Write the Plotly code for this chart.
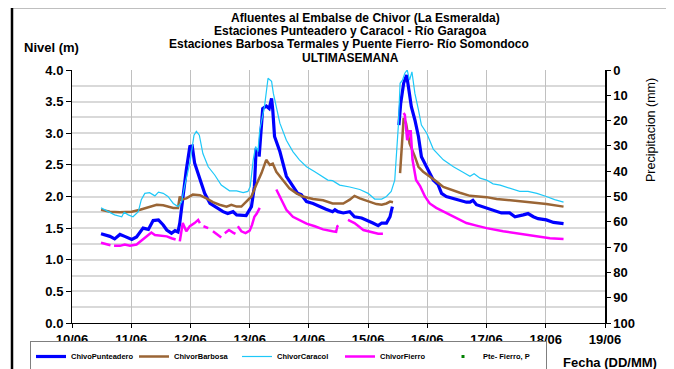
import pandas as pd
import plotly.graph_objects as go

BASE = pd.Timestamp("2011-06-10")

# ---- data (days since 10/06, level in m); None = gap ----
punt_days = [0.49,0.64,0.72,0.81,0.89,1.01,1.09,1.2,1.29,1.37,1.46,1.54,1.6,1.68,1.74,1.79,1.82,1.88,1.93,1.99,2.03,2.07,2.16,2.24,2.33,2.44,2.55,2.63,2.72,2.78,2.94,3.03,3.08,3.11,None,3.16,3.18,3.22,3.28,3.33,3.37,3.39,3.42,3.51,3.62,3.73,3.81,3.87,3.96,4.07,4.18,4.29,4.40,4.44,4.49,4.58,4.69,4.77,4.89,5.0,5.08,5.17,5.23,5.31,5.37,5.41,None,5.52,5.55,5.60,5.65,5.68,5.73,5.79,5.85,5.90,5.99,6.10,6.18,6.24,6.32,6.44,6.55,6.66,6.72,6.77,6.83,7.0,7.17,7.25,7.39,7.48,7.62,7.70,7.79,7.87,8.01,8.13,8.30]
punt_vals = [1.41,1.37,1.33,1.40,1.37,1.32,1.36,1.5,1.48,1.62,1.63,1.55,1.47,1.42,1.46,1.44,1.58,2.05,2.42,2.79,2.80,2.53,2.26,2.05,1.89,1.82,1.76,1.73,1.76,1.71,1.70,1.84,2.16,2.76,None,2.63,2.95,3.39,3.43,3.39,3.55,3.37,2.95,2.71,2.32,2.16,2.05,2.03,1.92,1.89,1.84,1.80,1.76,1.79,1.76,1.74,1.76,1.68,1.66,1.62,1.58,1.54,1.58,1.58,1.68,1.84,None,3.13,3.47,3.79,3.92,3.74,3.42,3.21,2.95,2.63,2.47,2.26,2.19,2.05,2.0,1.97,1.95,1.91,1.91,1.94,1.87,1.82,1.76,1.74,1.74,1.68,1.71,1.73,1.68,1.65,1.63,1.59,1.57]

barb_days = [0.49,0.64,0.81,1.01,1.15,1.29,1.43,1.54,1.62,1.71,1.79,1.82,1.85,1.93,2.04,2.16,2.27,2.38,2.49,2.61,2.69,2.78,2.86,2.94,3.03,3.11,3.20,3.28,3.34,3.39,3.45,3.56,3.67,3.79,3.90,4.07,4.24,4.40,4.58,4.69,4.77,4.86,5.0,5.14,5.23,5.31,5.37,5.42,None,5.54,5.56,5.60,5.64,5.70,5.79,5.85,5.93,6.04,6.15,6.27,6.38,6.55,6.72,7.0,7.17,7.45,7.73,8.01,8.30]
barb_vals = [1.79,1.76,1.75,1.76,1.79,1.83,1.87,1.86,1.84,1.82,1.82,2.0,1.95,1.97,2.03,2.02,1.97,1.91,1.87,1.84,1.87,1.84,1.84,1.91,2.0,2.18,2.37,2.58,2.5,2.52,2.39,2.26,2.13,2.05,2.0,1.96,1.94,1.89,1.89,1.95,2.01,1.97,1.92,1.88,1.87,1.89,1.92,1.91,None,2.37,2.68,3.24,3.16,2.84,2.63,2.47,2.39,2.32,2.24,2.15,2.11,2.06,2.01,1.99,1.96,1.94,1.91,1.88,1.84]

cara_days = [0.49,0.58,0.72,0.84,0.88,0.95,1.03,1.12,1.17,1.23,1.31,1.40,1.46,1.54,1.62,1.71,1.79,1.85,1.90,1.99,2.06,2.10,2.15,2.21,2.30,2.41,2.52,2.66,2.78,2.89,2.97,3.01,3.06,3.10,3.14,3.17,3.20,3.25,3.31,3.37,3.40,3.45,3.51,3.62,3.73,3.84,3.96,4.10,4.21,4.32,4.40,4.52,4.69,4.86,5.0,5.11,5.23,5.31,5.39,5.45,5.51,5.54,5.58,5.62,5.66,5.70,5.74,5.79,5.85,5.90,5.99,6.10,6.27,6.44,6.61,6.72,6.79,6.89,7.0,7.11,7.23,7.39,7.56,7.70,7.85,8.01,8.15,8.30]
cara_vals = [1.82,1.78,1.71,1.68,1.75,1.71,1.68,1.76,1.95,2.05,2.06,2.01,2.07,2.05,2.0,1.89,1.84,1.91,2.16,2.53,2.97,3.03,2.97,2.68,2.47,2.34,2.18,2.09,2.09,2.06,2.08,2.16,2.58,2.79,2.71,3.05,3.21,3.42,3.87,3.82,3.63,3.42,3.16,2.89,2.71,2.58,2.47,2.39,2.32,2.26,2.25,2.18,2.15,2.11,2.05,1.96,1.96,2.0,2.08,2.26,3.11,3.79,3.84,3.95,4.0,3.84,3.97,3.63,3.37,3.13,3.0,2.75,2.58,2.47,2.38,2.32,2.36,2.29,2.26,2.2,2.18,2.13,2.08,2.08,2.05,2.0,1.95,1.91]

fier_days = [0.49,0.58,0.65,None,0.71,0.81,0.89,0.98,1.09,1.17,1.26,1.34,1.40,1.48,1.6,1.68,1.75,None,1.82,1.87,1.93,1.99,2.07,2.13,2.16,None,2.22,2.30,None,2.38,2.47,2.52,None,2.58,2.65,2.72,2.76,None,2.80,2.86,2.93,3.0,3.04,3.08,3.12,3.17,None,3.45,3.53,3.62,3.73,3.84,3.96,4.10,4.24,4.40,4.46,4.48,4.50,None,4.66,4.77,4.92,5.06,5.17,5.25,None,5.60,5.62,5.66,5.69,5.72,5.75,5.81,5.88,5.96,6.04,6.15,6.32,6.49,6.66,6.83,7.0,7.28,7.56,7.85,8.07,8.30]
fier_vals = [1.27,1.25,1.23,None,1.22,1.22,1.24,1.22,1.24,1.30,1.36,1.43,1.39,1.38,1.37,1.34,1.32,None,1.29,1.58,1.45,1.53,1.58,1.63,1.58,None,1.53,1.50,None,1.45,1.39,1.35,None,1.42,1.47,1.43,1.41,None,1.53,1.45,1.42,1.46,1.55,1.68,1.73,1.82,None,2.11,1.95,1.79,1.68,1.63,1.57,1.53,1.48,1.45,1.44,1.53,1.54,None,1.63,1.58,1.47,1.43,1.41,1.41,None,3.32,3.29,2.89,3.03,3.03,2.58,2.26,2.16,2.0,1.89,1.82,1.74,1.66,1.58,1.54,1.50,1.45,1.41,1.37,1.34,1.33]

# ---- helpers ----
def to_dates(days):
    return [None if d is None else BASE + pd.Timedelta(days=d) for d in days]

W, H = 674, 369
OFF = 8  # page body margin offset
# plot area in screen pixels: x 72..605, y 70..323
PL, PR, PT, PB = 72 - OFF, 605 - OFF, 70 - OFF, 323 - OFF
ML, MR, MT, MB = PL, W - PR, PT, H - PB
PW, PH = PR - PL, PB - PT

def px(x):  # screen x -> paper
    return (x - OFF - PL) / PW

def py(y):  # screen y -> paper
    return (PB - (y - OFF)) / PH

FONT = "Liberation Sans, Arial, sans-serif"

fig = go.Figure()
series = [
    ("ChivoPunteadero", punt_days, punt_vals, "#0000ff", 3.2),
    ("ChivorBarbosa", barb_days, barb_vals, "#9a6535", 2.5),
    ("ChivorCaracol", cara_days, cara_vals, "#1ec8f8", 1.2),
    ("ChivorFierro", fier_days, fier_vals, "#ff00ff", 2.5),
]
for name, d, v, c, w in series:
    fig.add_trace(go.Scatter(x=to_dates(d), y=v, mode="lines", name=name,
                             line=dict(color=c, width=w), connectgaps=False))

fig.add_trace(go.Scatter(x=[None], y=[None], mode="markers", name="Pte- Fierro, P",
                         marker=dict(color="#008000", size=3, symbol="square"),
                         yaxis="y2"))

axis_font = dict(family=FONT, size=13, color="black", weight="bold")
fig.update_layout(
    width=W, height=H,
    margin=dict(l=ML, r=MR, t=MT, b=MB, autoexpand=False),
    paper_bgcolor="white", plot_bgcolor="white",
    font=dict(family=FONT, color="black"),
    showlegend=True,
    legend=dict(orientation="h", x=px(30), y=py(341), xanchor="left", yanchor="top",
                bordercolor="#7f7f7f", borderwidth=1, bgcolor="white",
                font=dict(family=FONT, size=7.5, color="black", weight="bold"),
                itemwidth=30, entrywidth=58, entrywidthmode="pixels",
                tracegroupgap=0, itemclick=False),
    xaxis=dict(type="date", range=[BASE, BASE + pd.Timedelta(days=9)],
               dtick=86400000, tick0=BASE, tickformat="%d/%m",
               showgrid=True, gridcolor="#c0c0c0", gridwidth=1,
               showline=True, linecolor="black", linewidth=1,
               ticks="outside", ticklen=4, tickcolor="black",
               tickfont=axis_font, zeroline=False),
    yaxis=dict(range=[0, 4], dtick=0.5, tickformat=".1f",
               showgrid=True, gridcolor="#d9d9d9", gridwidth=2,
               minor=dict(dtick=0.25, showgrid=True, gridcolor="#d9d9d9", gridwidth=2),
               showline=True, linecolor="black", linewidth=1,
               ticks="outside", ticklen=5, tickcolor="black",
               tickfont=axis_font, zeroline=False),
    yaxis2=dict(overlaying="y", side="right", range=[100, 0], dtick=10,
                showgrid=False, showline=True, linecolor="black", linewidth=1.5,
                ticks="outside", ticklen=4, tickcolor="black",
                tickfont=axis_font, zeroline=False),
)

# titles
title_lines = [
    ("Afluentes al Embalse de Chivor (La Esmeralda)", 18, 365),
    ("Estaciones Punteadero y Caracol - Río Garagoa", 31.2, 350),
    ("Estaciones Barbosa Termales y Puente Fierro- Río Somondoco", 44.4, 349),
    ("ULTIMASEMANA", 57.6, 350),
]
for txt, yy, xx in title_lines:
    fig.add_annotation(text=txt, x=px(xx), y=py(yy), xref="paper", yref="paper",
                       showarrow=False, xanchor="center", yanchor="middle",
                       font=dict(family=FONT, size=12, color="black", weight="bold"))

fig.add_annotation(text="Nivel (m)", x=px(22), y=py(47), xref="paper", yref="paper",
                   showarrow=False, xanchor="left", yanchor="middle",
                   font=dict(family=FONT, size=13, color="black", weight="bold"))
fig.add_annotation(text="Precipitacion (mm)", x=px(651), y=py(130), xref="paper", yref="paper",
                   showarrow=False, textangle=-90, xanchor="center", yanchor="middle",
                   font=dict(family=FONT, size=12.5, color="black"))
fig.add_annotation(text="Fecha (DD/MM)", x=px(659), y=py(362), xref="paper", yref="paper",
                   showarrow=False, xanchor="right", yanchor="middle",
                   font=dict(family=FONT, size=13, color="black", weight="bold"))

# outer frame
fig.add_shape(type="rect", xref="paper", yref="paper",
              x0=px(12), x1=px(669), y0=py(7), y1=py(385),
              line=dict(color="black", width=2.5), fillcolor="rgba(0,0,0,0)", layer="above")

fig.write_html("out.html")
